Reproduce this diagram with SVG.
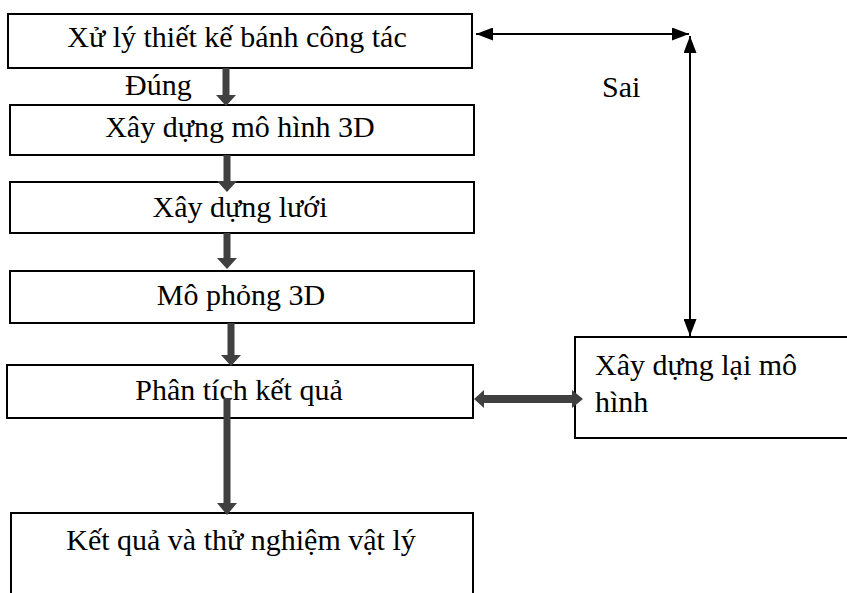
<svg xmlns="http://www.w3.org/2000/svg" width="847" height="593" viewBox="0 0 847 593">
  <defs>
    <style>
      .box { fill: #ffffff; stroke: #000000; stroke-width: 2; }
      .lbl { font-family: 'Liberation Serif', 'DejaVu Serif', serif; font-size: 30px; fill: #000000; }
      .mid { text-anchor: middle; }
      .flow { fill: #404040; stroke: none; }
      .link { fill: none; stroke: #000000; stroke-width: 2; }
    </style>
    <marker id="tipL" viewBox="0 0 17 13" refX="17" refY="6.5" markerWidth="17" markerHeight="13" markerUnits="userSpaceOnUse" orient="auto-start-reverse">
      <path d="M0,0 L17,6.5 L0,13 z" fill="#000000"/>
    </marker>
  </defs>

  <rect width="847" height="593" fill="#ffffff"/>

  <!-- process boxes -->
  <g id="node-xu-ly">
    <rect class="box" x="8" y="14" width="464" height="54"/>
    <text class="lbl mid" x="237" y="47">Xử lý thiết kế bánh công tác</text>
  </g>
  <g id="node-mo-hinh-3d">
    <rect class="box" x="10" y="105" width="464" height="50"/>
    <text class="lbl mid" x="240" y="137">Xây dựng mô hình 3D</text>
  </g>
  <g id="node-luoi">
    <rect class="box" x="10" y="182" width="464" height="51"/>
    <text class="lbl mid" x="240" y="217">Xây dựng lưới</text>
  </g>
  <g id="node-mo-phong">
    <rect class="box" x="10" y="271" width="464" height="52"/>
    <text class="lbl mid" x="241" y="305">Mô phỏng 3D</text>
  </g>
  <g id="node-phan-tich">
    <rect class="box" x="7" y="365" width="466" height="53"/>
    <text class="lbl mid" x="239" y="400">Phân tích kết quả</text>
  </g>
  <g id="node-ket-qua">
    <path class="box" d="M11,600 L11,513 L473,513 L473,600"/>
    <text class="lbl mid" x="241" y="550">Kết quả và thử nghiệm vật lý</text>
  </g>
  <g id="node-xay-dung-lai">
    <rect class="box" x="575" y="337" width="280" height="101"/>
    <text class="lbl" x="595" y="375">Xây dựng lại mô</text>
    <text class="lbl" x="595" y="412">hình</text>
  </g>

  <!-- connectors -->
  <g id="connectors">
    <!-- main downward flow -->
    <polygon class="flow" points="222.5,68 229.5,68 229.5,95 236,95 226,106 216,95 222.5,95"/>
    <polygon class="flow" points="223.5,155 230.5,155 230.5,181 237,181 227,192 217,181 223.5,181"/>
    <polygon class="flow" points="223.5,233 230.5,233 230.5,258 237,258 227,269 217,258 223.5,258"/>
    <polygon class="flow" points="227.5,323 234.5,323 234.5,355 241,355 231,366 221,355 227.5,355"/>
    <polygon class="flow" points="223.5,398 230.5,398 230.5,503 237,503 227,515 217,503 223.5,503"/>

    <!-- two-way link between analysis and rebuild -->
    <polygon class="flow" points="474,399 484,390 484,395 572,395 572,390 583,399 572,408 572,403 484,403 484,408"/>

    <!-- feedback loop -->
    <line class="link" x1="476" y1="34" x2="689" y2="34" marker-start="url(#tipL)" marker-end="url(#tipL)"/>
    <line class="link" x1="690" y1="36" x2="690" y2="336" marker-start="url(#tipL)" marker-end="url(#tipL)"/>

    <text class="lbl" x="125" y="95">Đúng</text>
    <text class="lbl" x="602" y="97">Sai</text>
  </g>
</svg>
